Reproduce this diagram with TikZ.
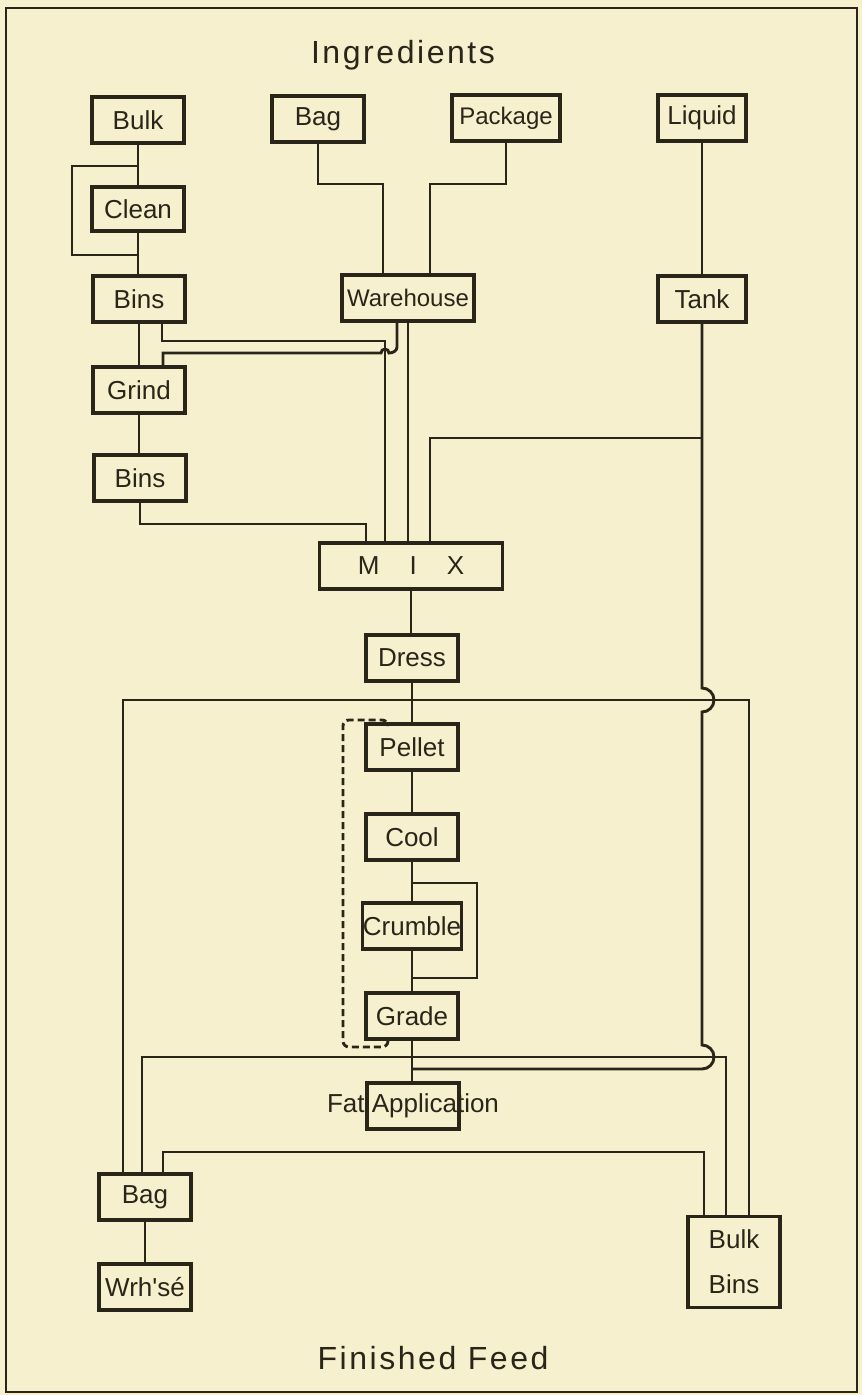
\documentclass[tikz,border=0pt]{standalone}
\usepackage{fontspec}
\newfontfamily\labelfont{Liberation Sans}
\newfontfamily\titlefont[LetterSpace=8]{Liberation Sans}
\definecolor{paper}{HTML}{F6F0CF}
\definecolor{ink}{HTML}{2A2519}

\begin{document}
\begin{tikzpicture}[
  x=0.5pt, y=-0.5pt,
  station/.style={draw=ink, line width=1.6pt, fill=paper, minimum width=46pt,
    minimum height=23pt, inner sep=0pt, text=ink,
    font=\labelfont\fontsize{13}{15.6}\selectfont},
  heading/.style={text=ink, font=\titlefont\fontsize{16}{19}\selectfont},
  flow/.style={draw=ink, line width=1.45pt},
  recycle/.style={flow, dash pattern=on 3.5pt off 2pt, rounded corners=3pt}
]
\fill[paper] (0,0) rectangle (862,1395);
\useasboundingbox (0,0) rectangle (862,1395);
\draw[ink, line width=1.2pt] (6,8) rectangle (857,1392);

% ingredients
\node[heading] (ingr) at (403,55) {Ingredients};
\node[station] (bulk) at (138,120) {Bulk};
\node[station] (bagin) at (318,119) {Bag};
\node[station, minimum width=54pt, font=\labelfont\fontsize{12}{14}\selectfont] (pack) at (506,118) {Package};
\node[station, minimum width=44pt] (liquid) at (702,118) {Liquid};
\node[station, minimum height=22pt] (clean) at (138,209) {Clean};
\node[station] (bins) at (139,299) {Bins};
\node[station, minimum width=66pt, font=\labelfont\fontsize{12}{14}\selectfont] (wareh) at (408,298) {Warehouse};
\node[station, minimum width=44pt] (tank) at (702,299) {Tank};
\node[station] (grind) at (139,390) {Grind};
\node[station] (binsb) at (140,478) {Bins};
\node[station, minimum width=91.5pt] (mix) at (411,566) {M\hspace{15pt}I\hspace{15pt}X};

% processing line
\node[station] (dress) at (412,658) {Dress};
\node[station] (pellet) at (412,747) {Pellet};
\node[station] (cool) at (412,837) {Cool};
\node[station] (crumble) at (412,926) {Crumble};
\node[station] (grade) at (412,1016) {Grade};
\node[station] (fat) at (413,1106) {};
\node[text=ink, font=\labelfont\fontsize{13}{15.6}\selectfont] (fatlabel) at (fat.center) {Fat Application};

% finished feed
\node[station] (bagout) at (145,1197) {Bag};
\node[station] (wrhse) at (145,1287) {Wrh's\'e};
\node[station, minimum height=45.5pt, align=center] (bulkbins) at (734,1262) {Bulk\\[7pt]Bins};
\node[heading] (finished) at (433,1358) {Finished Feed};

% bend points
\coordinate (lpa) at (72,166);
\coordinate (lpb) at (72,255);
\coordinate (ba) at (383,184);
\coordinate (pa) at (430,184);
\coordinate (bx) at (162,341);
\coordinate (by) at (385,341);
\coordinate (wg) at (397,347);
\coordinate (gx) at (163,353);
\coordinate (bm) at (366,524);
\coordinate (lq) at (430,438);
\coordinate (dl) at (123,700);
\coordinate (dr) at (749,700);
\coordinate (ca) at (477,883);
\coordinate (cb) at (477,978);
\coordinate (gl) at (142,1057);
\coordinate (gr) at (726,1057);
\coordinate (tf) at (702,1069);
\coordinate (bl) at (163,1152);
\coordinate (br) at (704,1152);
\coordinate (rx) at (388,0);
\coordinate (rb) at (343,1047);
\coordinate (rt) at (343,720);

% raw grain
\draw[flow] (bulk.south) -- (bulk.south |- clean.north);
\draw[flow] (bulk.south |- lpa) -- (lpa) -- (lpb) -- (bulk.south |- lpb);
\draw[flow] (clean.south) -- (clean.south |- bins.north);
\draw[flow] (bins.south) -- (bins.south |- grind.north);
\draw[flow] (grind.south) -- (grind.south |- binsb.north);
\draw[flow] (binsb.south) |- (bm) -- (bm |- mix.north);
\draw[flow] (bins.south -| bx) -- (bx) -- (by) -- (by |- mix.north);

% packaged and liquid
\draw[flow] (bagin.south) |- (ba) -- (ba |- wareh.north);
\draw[flow] (pack.south) |- (pa) -- (pa |- wareh.north);
\draw[flow] (wareh.south -| wg) -- (wg) to[out=-90, in=0] (389,353)
  arc[start angle=0, end angle=180, radius=2pt] -- (gx) -- (gx |- grind.north);
\draw[flow] (wareh.south) -- (wareh.south |- mix.north);
\draw[flow] (liquid.south) -- (tank.north);
\draw[flow] (tank.south |- lq) -- (lq) -- (lq |- mix.north);
\draw[flow] (tank.south) -- (702,688) arc[start angle=90, end angle=-90, radius=6pt]
  -- (702,1045) arc[start angle=90, end angle=-90, radius=6pt] -- (tf) -- (tf -| grade.south);

% processing line
\draw[flow] (mix.south) -- (mix.south |- dress.north);
\draw[flow] (dress.south) -- (pellet.north);
\draw[flow] (pellet.south) -- (cool.north);
\draw[flow] (cool.south) -- (crumble.north);
\draw[flow] (crumble.south) -- (grade.north);
\draw[flow] (grade.south) -- (grade.south |- fat.north);
\draw[flow] (cool.south |- ca) -- (ca) -- (cb) -- (cb -| grade.north);
\draw[recycle] (grade.south -| rx) |- (rb) -- (rt) -| (pellet.north -| rx);

% to bag and bulk bins
\draw[flow] (bagout.north -| dl) -- (dl) -- (dr) -- (dr |- bulkbins.north);
\draw[flow] (bagout.north -| gl) -- (gl) -- (gr) -- (gr |- bulkbins.north);
\draw[flow] (bulkbins.north -| br) -- (br) -- (bl) -- (bl |- bagout.north);
\draw[flow] (bagout.south) -- (wrhse.north);
\end{tikzpicture}
\end{document}
